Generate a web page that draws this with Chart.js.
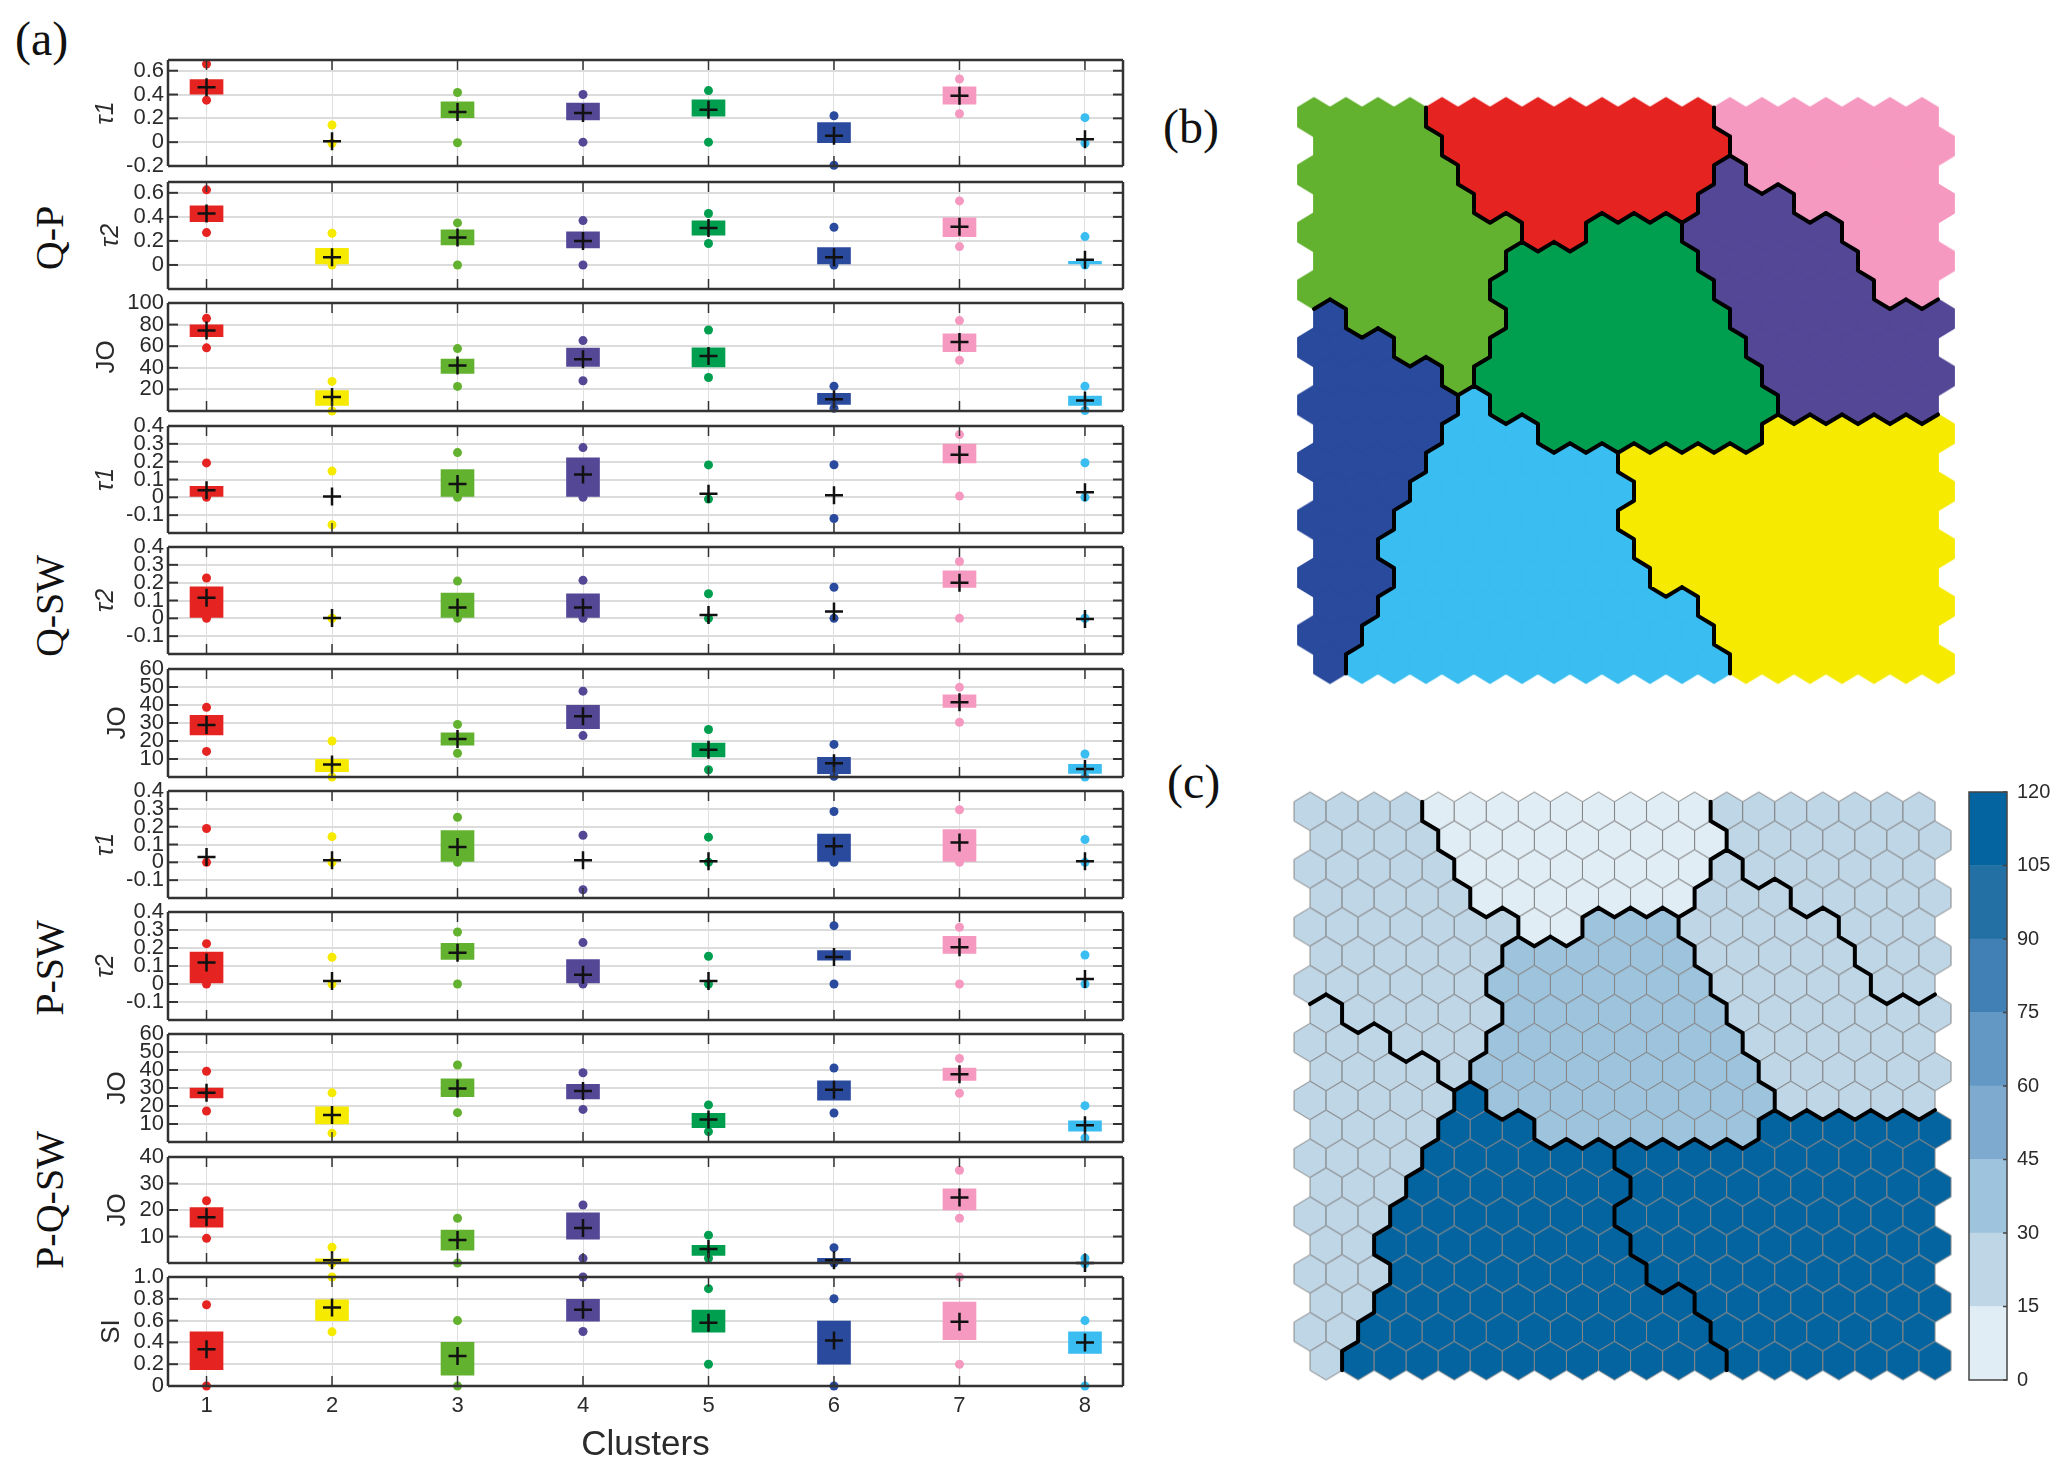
<!DOCTYPE html>
<html>
<head>
<meta charset="utf-8">
<title>Clusters</title>
<script src="https://cdn.jsdelivr.net/npm/chart.js@4"></script>
<style>
  html, body { margin: 0; background: #fff; }
  #page { position: relative; width: 2067px; height: 1475px; overflow: hidden; }
  #page canvas { position: absolute; }
  .tag { position: absolute; font: 48px/1 'Liberation Serif', serif; color: #111; }
  .group { position: absolute; font: 40px/1 'Liberation Serif', serif; color: #111;
    transform: translate(-50%, -50%) rotate(-90deg); white-space: nowrap; }
</style>
</head>
<body>
<div id="page">
  <div class="tag" style="left:15px;top:15px">(a)</div>
  <div class="tag" style="left:1163px;top:103px">(b)</div>
  <div class="tag" style="left:1167px;top:758px">(c)</div>
  <div class="group" style="left:50px;top:238px">Q-P</div>
  <div class="group" style="left:50px;top:606px">Q-SW</div>
  <div class="group" style="left:50px;top:968px">P-SW</div>
  <div class="group" style="left:50px;top:1200px">P-Q-SW</div>
</div>
<script>
const clusterIds = [1, 2, 3, 4, 5, 6, 7, 8];
const clusterColors = ['#e52421', '#f5ea00', '#63b22f', '#544796', '#009e4f', '#2a4a9d', '#f699c0', '#3abdf0'];

// Q-P tau1
const qpTau1Hi = [0.656, 0.144, 0.417, 0.4, 0.433, 0.222, 0.53, 0.206];
const qpTau1Lo = [0.353, -0.01, -0.005, 0, 0, -0.194, 0.239, -0.008];
const qpTau1BoxLow = [0.403, null, 0.206, 0.186, 0.219, -0.005, 0.319, null];
const qpTau1BoxHigh = [0.525, null, 0.339, 0.328, 0.356, 0.164, 0.464, null];
const qpTau1Mean = [0.461, 0.008, 0.253, 0.244, 0.272, 0.053, 0.389, 0.025];
// Q-P tau2
const qpTau2Hi = [0.625, 0.264, 0.35, 0.369, 0.428, 0.314, 0.533, 0.236];
const qpTau2Lo = [0.269, 0, 0, 0, 0.178, 0, 0.153, 0];
const qpTau2BoxLow = [0.361, 0, 0.167, 0.142, 0.247, 0, 0.236, 0];
const qpTau2BoxHigh = [0.492, 0.139, 0.292, 0.275, 0.367, 0.144, 0.392, 0.031];
const qpTau2Mean = [0.428, 0.064, 0.228, 0.2, 0.308, 0.064, 0.317, 0.044];
// Q-P JO
const qpJoHi = [85.8, 27.4, 57.8, 65.2, 75, 23, 83.7, 23];
const qpJoLo = [58.5, 0, 22.8, 28, 31, 2.5, 47, 0.5];
const qpJoBoxLow = [68.9, 5.2, 34.8, 41.2, 40.9, 6.2, 55, 5.2];
const qpJoBoxHigh = [79.7, 19, 48, 58.2, 58.5, 16.3, 71.4, 13.8];
const qpJoMean = [74.5, 12.9, 42.2, 48, 51, 10.8, 64, 9.8];
// Q-SW tau1
const qsTau1Hi = [0.193, 0.147, 0.251, 0.279, 0.182, 0.183, 0.352, 0.194];
const qsTau1Lo = [0, -0.154, 0, 0, -0.01, -0.119, 0.007, 0];
const qsTau1BoxLow = [0, null, 0, 0, null, null, 0.193, null];
const qsTau1BoxHigh = [0.062, null, 0.156, 0.222, null, null, 0.299, null];
const qsTau1Mean = [0.04, 0.004, 0.075, 0.128, 0.02, 0.011, 0.239, 0.029];
// Q-SW tau2
const qsTau2Hi = [0.226, 0, 0.209, 0.213, 0.138, 0.174, 0.319, 0];
const qsTau2Lo = [0, 0, 0, 0, 0, 0, 0, 0];
const qsTau2BoxLow = [0, null, 0, 0, null, null, 0.174, null];
const qsTau2BoxHigh = [0.176, null, 0.141, 0.138, null, null, 0.266, null];
const qsTau2Mean = [0.116, 0.002, 0.061, 0.061, 0.018, 0.039, 0.2, -0.004];
// Q-SW JO
const qsJoHi = [38.7, 20, 29.2, 47.7, 26.4, 18.1, 49.8, 12.8];
const qsJoLo = [14.2, 0, 13.2, 23, 4, 0.4, 30.4, 0];
const qsJoBoxLow = [23.4, 3, 17.7, 26.8, 11.1, 1.9, 38.7, 2];
const qsJoBoxHigh = [34.3, 9.8, 24.5, 39.8, 18.9, 10.9, 45.7, 7];
const qsJoMean = [28.9, 7, 21.1, 33.8, 15.1, 7.7, 41.5, 4.5];
// P-SW tau1
const psTau1Hi = [0.19, 0.144, 0.253, 0.152, 0.141, 0.285, 0.295, 0.128];
const psTau1Lo = [0, 0, 0, -0.154, 0, 0, 0, 0];
const psTau1BoxLow = [null, null, 0, null, null, 0, 0, null];
const psTau1BoxHigh = [null, null, 0.178, null, null, 0.159, 0.184, null];
const psTau1Mean = [0.03, 0.011, 0.086, 0.011, 0.006, 0.09, 0.111, 0.006];
// P-SW tau2
const psTau2Hi = [0.224, 0.148, 0.289, 0.23, 0.154, 0.324, 0.315, 0.161];
const psTau2Lo = [0, 0, 0, 0, 0, 0, 0, 0];
const psTau2BoxLow = [0, null, 0.137, 0, null, 0.133, 0.17, null];
const psTau2BoxHigh = [0.178, null, 0.226, 0.135, null, 0.185, 0.265, null];
const psTau2Mean = [0.12, 0.017, 0.174, 0.052, 0.017, 0.15, 0.204, 0.028];
// P-SW JO
const psJoHi = [39.3, 27.3, 42.8, 38.5, 20.6, 41.1, 46.4, 20.2];
const psJoLo = [17.2, 4.9, 16.3, 18.1, 5.8, 16.1, 27.1, 2.2];
const psJoBoxLow = [24.5, 10.1, 25.2, 23.9, 8, 23.2, 34.2, 6];
const psJoBoxHigh = [30, 19.6, 35.1, 32.1, 15.9, 34, 41.1, 11.8];
const psJoMean = [27.3, 15, 29.7, 28.4, 12.5, 29, 37.6, 9.3];
// P-Q-SW JO
const pqsJoHi = [23.5, 5.9, 16.9, 21.9, 10.5, 5.8, 35, 1.8];
const pqsJoLo = [9.3, 0, 0, 1.8, 1.8, 0, 16.9, -0.3];
const pqsJoBoxLow = [13.5, 0, 4.8, 9, 2.9, 0, 20, null];
const pqsJoBoxHigh = [20.9, 1.6, 12.4, 18.9, 6.7, 1.8, 28, null];
const pqsJoMean = [17.3, 1, 8.7, 13.2, 5.3, 1, 24.7, 0];
// SI
const siHi = [0.745, 1, 0.6, 1, 0.893, 0.8, 1, 0.6];
const siLo = [0, 0.497, 0, 0.5, 0.2, 0, 0.2, 0];
const siBoxLow = [0.15, 0.6, 0.1, 0.595, 0.494, 0.2, 0.426, 0.3];
const siBoxHigh = [0.497, 0.79, 0.4, 0.795, 0.696, 0.595, 0.77, 0.497];
const siMean = [0.337, 0.72, 0.276, 0.7, 0.58, 0.417, 0.589, 0.4];

// tick labels
const tauWideTicks = [-0.2, 0, 0.2, 0.4, 0.6];
const tauShortTicks = [0, 0.2, 0.4, 0.6];
const tauFineTicks = [-0.1, 0, 0.1, 0.2, 0.3, 0.4];
const jo100Ticks = [20, 40, 60, 80, 100];
const jo60Ticks = [10, 20, 30, 40, 50, 60];
const jo40Ticks = [10, 20, 30, 40];
const siTicks = [0, 0.2, 0.4, 0.6, 0.8, 1];
const colorbarTicks = [0, 15, 30, 45, 60, 75, 90, 105, 120];

// SOM cluster of every hexagon, one string per row
const somClusters = [
  '33331111111117777777',
  '33331111111117777777',
  '33333111111114777777',
  '33333111111144477777',
  '33333331155544444777',
  '33333355555544444777',
  '33333355555554444477',
  '63333355555554444444',
  '66633355555555444444',
  '66663555555555444444',
  '66666855555555544444',
  '66668885555555222222',
  '66668888882222222222',
  '66688888882222222222',
  '66688888882222222222',
  '66888888882222222222',
  '66688888888222222222',
  '66888888888822222222',
  '66888888888882222222',
  '68888888888882222222'
];
// hits per cluster, map (c)
const clusterHits = [10, 112, 22, 22, 37, 22, 22, 112];
const bandColors = ['#e0edf5', '#bfd6e7', '#9dc3dd', '#7eaacf', '#6298c3', '#4180b5', '#2270a4', '#04649f'];
const bandSteps = [15, 15, 15, 15, 15, 15, 15, 15];

Chart.defaults.font.family = "'Liberation Sans', Arial, sans-serif";
Chart.defaults.color = '#2b2b2b';

const axisLeft = 168;
const axisRight = 1123;
const xMin = 0.693;
const xMax = 8.303;
const edge = 24;

const panels = [
  { label: 'τ1', labelX: 106, top: 60, bottom: 166, yMin: -0.2, yMax: 0.69, ticks: tauWideTicks, digits: 1, hi: qpTau1Hi, lo: qpTau1Lo, boxLow: qpTau1BoxLow, boxHigh: qpTau1BoxHigh, mean: qpTau1Mean },
  { label: 'τ2', labelX: 111, top: 182, bottom: 289, yMin: -0.2, yMax: 0.69, ticks: tauShortTicks, digits: 1, hi: qpTau2Hi, lo: qpTau2Lo, boxLow: qpTau2BoxLow, boxHigh: qpTau2BoxHigh, mean: qpTau2Mean },
  { label: 'JO', labelX: 106, top: 303, bottom: 411, yMin: 0, yMax: 100, ticks: jo100Ticks, digits: 0, hi: qpJoHi, lo: qpJoLo, boxLow: qpJoBoxLow, boxHigh: qpJoBoxHigh, mean: qpJoMean },
  { label: 'τ1', labelX: 106, top: 426, bottom: 533, yMin: -0.2, yMax: 0.4, ticks: tauFineTicks, digits: 1, hi: qsTau1Hi, lo: qsTau1Lo, boxLow: qsTau1BoxLow, boxHigh: qsTau1BoxHigh, mean: qsTau1Mean },
  { label: 'τ2', labelX: 106, top: 547, bottom: 654, yMin: -0.2, yMax: 0.4, ticks: tauFineTicks, digits: 1, hi: qsTau2Hi, lo: qsTau2Lo, boxLow: qsTau2BoxLow, boxHigh: qsTau2BoxHigh, mean: qsTau2Mean },
  { label: 'JO', labelX: 117, top: 669, bottom: 777, yMin: 0, yMax: 60, ticks: jo60Ticks, digits: 0, hi: qsJoHi, lo: qsJoLo, boxLow: qsJoBoxLow, boxHigh: qsJoBoxHigh, mean: qsJoMean },
  { label: 'τ1', labelX: 106, top: 791, bottom: 898, yMin: -0.2, yMax: 0.4, ticks: tauFineTicks, digits: 1, hi: psTau1Hi, lo: psTau1Lo, boxLow: psTau1BoxLow, boxHigh: psTau1BoxHigh, mean: psTau1Mean },
  { label: 'τ2', labelX: 106, top: 912, bottom: 1020, yMin: -0.2, yMax: 0.4, ticks: tauFineTicks, digits: 1, hi: psTau2Hi, lo: psTau2Lo, boxLow: psTau2BoxLow, boxHigh: psTau2BoxHigh, mean: psTau2Mean },
  { label: 'JO', labelX: 117, top: 1034, bottom: 1142, yMin: 0, yMax: 60, ticks: jo60Ticks, digits: 0, hi: psJoHi, lo: psJoLo, boxLow: psJoBoxLow, boxHigh: psJoBoxHigh, mean: psJoMean },
  { label: 'JO', labelX: 117, top: 1157, bottom: 1263, yMin: 0, yMax: 40, ticks: jo40Ticks, digits: 0, hi: pqsJoHi, lo: pqsJoLo, boxLow: pqsJoBoxLow, boxHigh: pqsJoBoxHigh, mean: pqsJoMean },
  { label: 'SI', labelX: 111, top: 1277, bottom: 1386, yMin: 0, yMax: 1, ticks: siTicks, digits: 1, hi: siHi, lo: siLo, boxLow: siBoxLow, boxHigh: siBoxHigh, mean: siMean }
];

const addCanvas = (left, top, width, height) => {
  const canvas = document.createElement('canvas');
  canvas.width = width;
  canvas.height = height;
  canvas.style.left = `${left}px`;
  canvas.style.top = `${top}px`;
  document.getElementById('page').appendChild(canvas);
  return canvas;
};

// box round the axes with the short ticks pointing inwards
const axesFrame = {
  id: 'axesFrame',
  afterDatasetsDraw(chart) {
    const { ctx, chartArea: a, scales } = chart;
    const line = (x1, y1, x2, y2, width) => {
      ctx.lineWidth = width;
      ctx.beginPath();
      ctx.moveTo(x1, y1);
      ctx.lineTo(x2, y2);
      ctx.stroke();
    };
    ctx.save();
    ctx.strokeStyle = '#333';
    scales.x.ticks.forEach((t) => {
      const x = scales.x.getPixelForValue(t.value);
      line(x, a.top, x, a.top + 10, 1.5);
      line(x, a.bottom, x, a.bottom - 10, 1.5);
    });
    scales.y.ticks.forEach((t) => {
      const y = scales.y.getPixelForValue(t.value);
      line(a.left, y, a.left + 10, y, 2);
      line(a.right, y, a.right - 10, y, 2);
    });
    line(a.left, a.top, a.right, a.top, 2.5);
    line(a.left, a.bottom, a.right, a.bottom, 2.5);
    line(a.left, a.top, a.left, a.bottom, 2.5);
    line(a.right, a.top, a.right, a.bottom, 2.5);
    ctx.restore();
  },
};

const drawPanel = (panel, index) => {
  const isLast = index === panels.length - 1;
  const below = isLast ? 1475 - panel.bottom : edge;
  const height = panel.bottom - panel.top + edge + below;
  const canvas = addCanvas(0, panel.top - edge, axisRight + 21, height);
  const points = (values) => clusterIds.map((x, i) => ({ x, y: values[i] }));
  const isTau = panel.label[0] === 'τ';

  new Chart(canvas, {
    type: 'bar',
    data: {
      datasets: [
        {
          type: 'scatter',
          data: points(panel.mean),
          pointStyle: 'cross',
          pointRadius: 9,
          pointBorderWidth: 2.5,
          pointBorderColor: '#111',
          clip: false,
          order: 0,
        },
        {
          type: 'scatter',
          data: points(panel.hi).concat(points(panel.lo)),
          pointRadius: 4.5,
          pointBorderWidth: 0,
          pointBackgroundColor: clusterColors.concat(clusterColors),
          clip: false,
          order: 1,
        },
        {
          type: 'bar',
          data: clusterIds.map((x, i) => ({
            x,
            y: panel.boxLow[i] === null ? null : [panel.boxLow[i], panel.boxHigh[i]],
          })),
          backgroundColor: clusterColors,
          barThickness: 33,
          order: 2,
        },
      ],
    },
    options: {
      responsive: false,
      animation: false,
      devicePixelRatio: 1,
      events: [],
      layout: { autoPadding: false, padding: { top: edge, right: 21, bottom: 0, left: 0 } },
      plugins: { legend: { display: false }, tooltip: { enabled: false } },
      scales: {
        x: {
          type: 'linear',
          offset: false,
          min: xMin,
          max: xMax,
          afterBuildTicks: (scale) => { scale.ticks = clusterIds.map((value) => ({ value })); },
          afterFit: (scale) => { scale.height = below; },
          border: { display: false },
          grid: { offset: false, color: '#dedede', lineWidth: 1, drawTicks: false },
          ticks: {
            display: isLast,
            autoSkip: false,
            maxRotation: 0,
            padding: 7,
            font: { size: 22 },
            callback: (value) => String(value),
          },
          title: {
            display: isLast,
            text: 'Clusters',
            font: { size: 35 },
            padding: { top: 0, bottom: 9 },
          },
        },
        y: {
          min: panel.yMin,
          max: panel.yMax,
          afterBuildTicks: (scale) => { scale.ticks = panel.ticks.map((value) => ({ value })); },
          afterFit: (scale) => { scale.width = axisLeft; },
          border: { display: false },
          grid: { color: '#dcdcdc', lineWidth: 2, drawTicks: false },
          ticks: {
            autoSkip: false,
            padding: 4,
            font: { size: 22 },
            callback: (value) => {
              if (panel.digits === 0 || value === 0) return String(value);
              return value.toFixed(panel.digits);
            },
          },
          title: {
            display: true,
            text: panel.label,
            font: { size: isTau ? 25 : 26, style: isTau ? 'italic' : 'normal' },
            padding: { top: panel.labelX - 15, bottom: 0 },
          },
        },
      },
    },
    plugins: [axesFrame],
  });
};

panels.forEach(drawPanel);

// hexagon as a point style, sized to one SOM cell
const hexStyle = (fill, stroke, strokeWidth, w, h) => {
  const canvas = document.createElement('canvas');
  canvas.width = Math.ceil(w) + 4;
  canvas.height = Math.ceil(h) + 4;
  const ctx = canvas.getContext('2d');
  const cx = canvas.width / 2;
  const cy = canvas.height / 2;
  ctx.beginPath();
  ctx.moveTo(cx, cy - h / 2);
  ctx.lineTo(cx + w / 2, cy - h / 4);
  ctx.lineTo(cx + w / 2, cy + h / 4);
  ctx.lineTo(cx, cy + h / 2);
  ctx.lineTo(cx - w / 2, cy + h / 4);
  ctx.lineTo(cx - w / 2, cy - h / 4);
  ctx.closePath();
  ctx.fillStyle = fill;
  ctx.fill();
  ctx.lineJoin = 'round';
  ctx.lineWidth = strokeWidth;
  ctx.strokeStyle = stroke;
  ctx.stroke();
  return canvas;
};

const cellX = (row, col) => col + (row % 2 === 0 ? 0.5 : 1);
const cellAt = (row, x) => {
  const text = somClusters[row];
  if (!text) return null;
  const col = x - (row % 2 === 0 ? 0.5 : 1);
  return col >= 0 && col < text.length ? text[col] : null;
};

// black edges wherever two neighbouring cells belong to different clusters
const boundaryPoints = () => {
  const out = [];
  const addEdge = (x1, y1, x2, y2) => {
    out.push({ x: x1, y: y1 }, { x: x2, y: y2 }, { x: NaN, y: NaN });
  };
  somClusters.forEach((text, row) => {
    [...text].forEach((id, col) => {
      const x = cellX(row, col);
      const right = cellAt(row, x + 1);
      const downRight = cellAt(row + 1, x + 0.5);
      const downLeft = cellAt(row + 1, x - 0.5);
      if (right && right !== id) addEdge(x + 0.5, row - 1 / 3, x + 0.5, row + 1 / 3);
      if (downRight && downRight !== id) addEdge(x + 0.5, row + 1 / 3, x, row + 2 / 3);
      if (downLeft && downLeft !== id) addEdge(x, row + 2 / 3, x - 0.5, row + 1 / 3);
    });
  });
  return out;
};

const drawSom = (left, top, width, height, styleFor) => {
  const pad = 6;
  const canvas = addCanvas(left - pad, top - pad, width + pad * 2, height + pad * 2);
  const cellDatasets = clusterIds.map((id, i) => {
    const data = [];
    somClusters.forEach((text, row) => {
      [...text].forEach((cell, col) => {
        if (Number(cell) === id) data.push({ x: cellX(row, col), y: row });
      });
    });
    return { data, pointStyle: styleFor(i), pointRadius: 1, clip: false, order: 1 };
  });
  new Chart(canvas, {
    type: 'scatter',
    data: {
      datasets: cellDatasets.concat({
        data: boundaryPoints(),
        showLine: true,
        spanGaps: false,
        pointRadius: 0,
        borderColor: '#000',
        borderWidth: 4,
        borderCapStyle: 'round',
        clip: false,
        order: 0,
      }),
    },
    options: {
      responsive: false,
      animation: false,
      devicePixelRatio: 1,
      events: [],
      layout: { autoPadding: false, padding: pad },
      plugins: { legend: { display: false }, tooltip: { enabled: false } },
      scales: {
        x: { display: false, min: 0, max: 20.5 },
        y: { display: false, reverse: true, min: -2 / 3, max: 19 + 2 / 3 },
      },
    },
  });
};

drawSom(1298, 98, 656, 585, (i) => hexStyle(clusterColors[i], clusterColors[i], 1.8, 32, 38.4));
drawSom(1294, 792, 657, 588, (i) => {
  const fill = bandColors[Math.floor(clusterHits[i] / 15)];
  return hexStyle(fill, '#868686', 1, 32.05, 38.6);
});

// colour bar of map (c)
new Chart(addCanvas(1955, 792 - edge, 112, 588 + edge * 2), {
  type: 'bar',
  data: {
    labels: [''],
    datasets: bandSteps.map((step, i) => ({
      data: [step],
      backgroundColor: bandColors[i],
      stack: 'hits',
      barPercentage: 1,
      categoryPercentage: 1,
    })),
  },
  options: {
    responsive: false,
    animation: false,
    devicePixelRatio: 1,
    events: [],
    layout: { autoPadding: false, padding: { top: edge, bottom: 0, left: 14, right: 0 } },
    plugins: { legend: { display: false }, tooltip: { enabled: false } },
    scales: {
      x: {
        stacked: true,
        afterFit: (scale) => { scale.height = edge; },
        border: { display: false },
        grid: { display: false, drawTicks: false },
        ticks: { display: false },
      },
      y: {
        position: 'right',
        stacked: true,
        min: 0,
        max: 120,
        afterBuildTicks: (scale) => { scale.ticks = colorbarTicks.map((value) => ({ value })); },
        afterFit: (scale) => { scale.width = 60; },
        border: { display: false },
        grid: { display: false, drawTicks: false },
        ticks: { autoSkip: false, padding: 10, font: { size: 20 } },
      },
    },
  },
  plugins: [{
    id: 'barFrame',
    afterDatasetsDraw(chart) {
      const { ctx, chartArea: a, scales } = chart;
      ctx.save();
      ctx.strokeStyle = '#444';
      ctx.lineWidth = 1.5;
      ctx.strokeRect(a.left, a.top, a.right - a.left, a.bottom - a.top);
      scales.y.ticks.forEach((t) => {
        const y = scales.y.getPixelForValue(t.value);
        ctx.beginPath();
        ctx.moveTo(a.right, y);
        ctx.lineTo(a.right - 4, y);
        ctx.stroke();
      });
      ctx.restore();
    },
  }],
});
</script>
</body>
</html>
